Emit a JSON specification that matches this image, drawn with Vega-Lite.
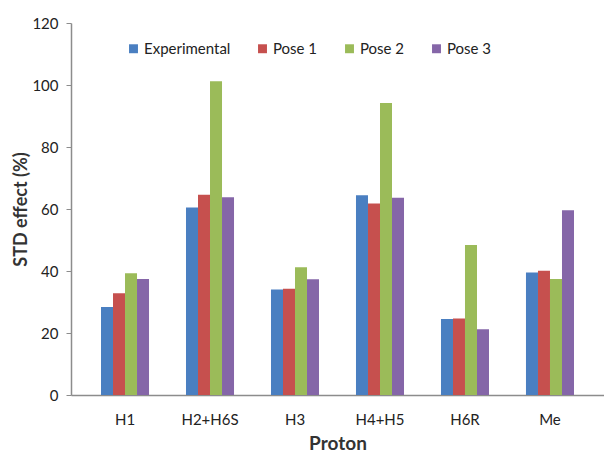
{
  "$schema": "https://vega.github.io/schema/vega-lite/v6.json",
  "width": 533,
  "height": 372,
  "autosize": {"type": "none"},
  "padding": {"left": 71, "top": 23, "right": 0, "bottom": 59},
  "background": "white",
  "config": {
    "view": {"stroke": null},
    "font": "Lato"
  },
  "data": {
    "values": [
      {"proton": "H1", "series": "Experimental", "value": 28.4},
      {"proton": "H1", "series": "Pose 1", "value": 32.8},
      {"proton": "H1", "series": "Pose 2", "value": 39.3},
      {"proton": "H1", "series": "Pose 3", "value": 37.4},
      {"proton": "H2+H6S", "series": "Experimental", "value": 60.5},
      {"proton": "H2+H6S", "series": "Pose 1", "value": 64.6},
      {"proton": "H2+H6S", "series": "Pose 2", "value": 101.2},
      {"proton": "H2+H6S", "series": "Pose 3", "value": 63.8},
      {"proton": "H3", "series": "Experimental", "value": 34.0},
      {"proton": "H3", "series": "Pose 1", "value": 34.3},
      {"proton": "H3", "series": "Pose 2", "value": 41.2},
      {"proton": "H3", "series": "Pose 3", "value": 37.3},
      {"proton": "H4+H5", "series": "Experimental", "value": 64.4},
      {"proton": "H4+H5", "series": "Pose 1", "value": 61.8},
      {"proton": "H4+H5", "series": "Pose 2", "value": 94.2},
      {"proton": "H4+H5", "series": "Pose 3", "value": 63.6},
      {"proton": "H6R", "series": "Experimental", "value": 24.5},
      {"proton": "H6R", "series": "Pose 1", "value": 24.7},
      {"proton": "H6R", "series": "Pose 2", "value": 48.4},
      {"proton": "H6R", "series": "Pose 3", "value": 21.2},
      {"proton": "Me", "series": "Experimental", "value": 39.5},
      {"proton": "Me", "series": "Pose 1", "value": 40.1},
      {"proton": "Me", "series": "Pose 2", "value": 37.4},
      {"proton": "Me", "series": "Pose 3", "value": 59.6}
    ]
  },
  "mark": {"type": "bar"},
  "encoding": {
    "x": {
      "field": "proton",
      "type": "nominal",
      "sort": null,
      "scale": {"paddingInner": 0.435, "paddingOuter": 0.353},
      "axis": {
        "title": "Proton",
        "titleFontSize": 19,
        "titleFontWeight": "bold",
        "titleColor": "#333333",
        "titlePadding": 7,
        "labelAngle": 0,
        "labelFontSize": 15,
        "labelColor": "#222222",
        "labelPadding": 17,
        "ticks": false,
        "domainColor": "#8c8c8c",
        "domainWidth": 1.5,
        "grid": false
      }
    },
    "xOffset": {"field": "series", "type": "nominal", "sort": ["Experimental", "Pose 1", "Pose 2", "Pose 3"]},
    "y": {
      "field": "value",
      "type": "quantitative",
      "scale": {"domain": [0, 120], "nice": false},
      "axis": {
        "title": "STD effect (%)",
        "titleFontSize": 18,
        "titleFontWeight": "bold",
        "titleColor": "#333333",
        "titlePadding": 1,
        "values": [0, 20, 40, 60, 80, 100, 120],
        "labelFontSize": 15,
        "labelColor": "#222222",
        "labelPadding": 8,
        "tickSize": 5,
        "tickColor": "#8c8c8c",
        "domainColor": "#8c8c8c",
        "domainWidth": 1.5,
        "grid": false
      }
    },
    "color": {
      "field": "series",
      "type": "nominal",
      "sort": ["Experimental", "Pose 1", "Pose 2", "Pose 3"],
      "scale": {"domain": ["Experimental", "Pose 1", "Pose 2", "Pose 3"], "range": ["#4a7fc1", "#c6504e", "#9bbb59", "#8566a8"]},
      "legend": {
        "title": null,
        "orient": "none",
        "direction": "horizontal",
        "legendX": 55,
        "legendY": 18,
        "symbolType": "square",
        "symbolSize": 80,
        "symbolStrokeWidth": 0,
        "labelFontSize": 15,
        "labelColor": "#222222",
        "labelOffset": 3,
        "columnPadding": 24
      }
    }
  }
}
